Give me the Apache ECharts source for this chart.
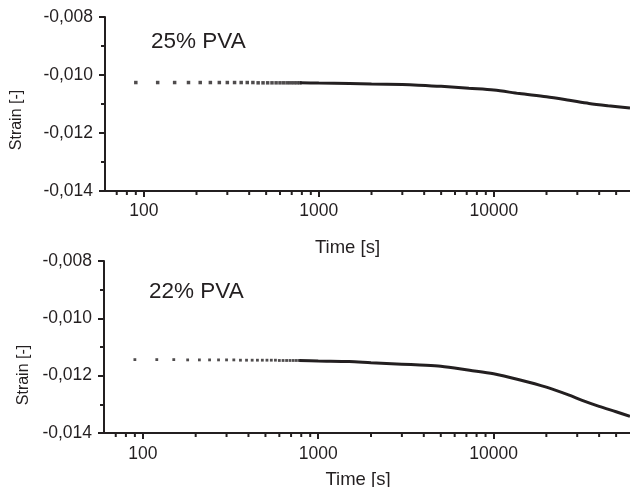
<!DOCTYPE html>
<html><head><meta charset="utf-8">
<script src="https://cdn.jsdelivr.net/npm/echarts@6/dist/echarts.min.js"></script>
<style>html,body{margin:0;padding:0;background:#fff}#c{width:630px;height:487px}</style>
</head><body><div id="c"></div>
<script>
// ---- data ----
const panelLabels = ['25% PVA', '22% PVA'];
const dotTimes = [90,120,150,180,210,240,270,300,330,360,390,420,450,480,510,540,570,600,630,660,690,720,750,780];
const dots25 = [-0.01026,-0.01026,-0.01026,-0.01026,-0.01026,-0.01026,-0.01026,-0.01026,-0.01026,-0.01026,-0.01026,-0.01026,
                -0.01027,-0.01027,-0.01027,-0.01027,-0.01027,-0.01027,-0.01027,-0.01027,-0.01027,-0.01027,-0.01027,-0.01027];
const dots22 = [-0.01144,-0.01144,-0.01144,-0.01145,-0.01145,-0.01145,-0.01145,-0.01145,-0.01145,-0.01146,-0.01146,-0.01146,
                -0.01146,-0.01146,-0.01146,-0.01146,-0.01146,-0.01147,-0.01147,-0.01147,-0.01147,-0.01147,-0.01147,-0.01147];
const lineTimes25 = [780,1000,1500,2000,3000,3700,5000,7200,10000,14000,20000,27000,35000,45000,60000];
const line25 = [-0.01027,-0.01028,-0.01029,-0.01031,-0.01033,-0.01035,-0.01039,-0.01046,-0.01052,-0.01064,-0.01075,-0.01087,-0.01098,-0.01106,-0.01114];
const lineTimes22 = [780,1000,1500,2000,3000,3800,5000,7300,10000,14000,20000,27000,32000,40000,50000,60000];
const line22 = [-0.01147,-0.01149,-0.01151,-0.01155,-0.01160,-0.01163,-0.01167,-0.01181,-0.01193,-0.01214,-0.01240,-0.01268,-0.01286,-0.01307,-0.01326,-0.01342];
const xMajorLabels = [100, 1000, 10000];
const xMinorTicks = [70,80,90,200,300,400,500,600,700,800,900,2000,3000,4000,5000,6000,7000,8000,9000,20000,30000,40000,50000];
const X_MIN = 60, X_MAX = 60000;
const Y_MIN = -0.014, Y_MAX = -0.008, Y_STEP = 0.002;
const xTitle = 'Time [s]';
const yTitle = 'Strain [-]';

// ---- chart ----
const INK = '#231f20';
const FONT = 'Liberation Sans, Arial, sans-serif';
const chart = echarts.init(document.getElementById('c'), null, {renderer: 'canvas'});

function xAxisCfg(idx, margin, gap, pad) {
  return {
    gridIndex: idx, type: 'log', logBase: 10, min: X_MIN, max: X_MAX,
    axisLine: {show: true, onZero: false, lineStyle: {color: INK, width: 2}},
    axisTick: {show: true, length: 6, lineStyle: {color: INK, width: 2}},
    minorTick: {show: false},
    splitLine: {show: false},
    axisLabel: {
      fontSize: 17.5, color: INK, fontFamily: FONT, margin: margin,
      formatter: v => xMajorLabels.includes(Math.round(v)) ? String(Math.round(v)) : '',
      showMinLabel: false, showMaxLabel: false
    },
    name: xTitle, nameLocation: 'middle', nameGap: gap,
    nameTextStyle: {fontSize: 18.5, color: INK, fontFamily: FONT, padding: pad}
  };
}
function yAxisCfg(idx, gap, pad) {
  return {
    gridIndex: idx, type: 'value', min: Y_MIN, max: Y_MAX, interval: Y_STEP,
    axisLine: {show: true, onZero: false, lineStyle: {color: INK, width: 2}},
    axisTick: {show: true, length: 6, lineStyle: {color: INK, width: 2}},
    minorTick: {show: true, splitNumber: 2, length: 4, lineStyle: {color: INK, width: 2}},
    splitLine: {show: false},
    axisLabel: {
      fontSize: 17.5, color: INK, fontFamily: FONT, margin: 12,
      formatter: v => v.toFixed(3).replace('.', ',')
    },
    name: yTitle, nameLocation: 'middle', nameGap: gap, nameRotate: 90,
    nameTextStyle: {fontSize: 16, color: INK, fontFamily: FONT, padding: pad}
  };
}
function dotSeries(idx, vals, size) {
  return {
    type: 'scatter', xAxisIndex: idx, yAxisIndex: idx,
    data: dotTimes.map((t, i) => [t, vals[i]]),
    symbol: 'rect', symbolSize: size, itemStyle: {color: INK}, silent: true
  };
}
function lineSeries(idx, times, vals) {
  return {
    type: 'line', xAxisIndex: idx, yAxisIndex: idx,
    data: times.map((t, i) => [t, vals[i]]),
    showSymbol: false, smooth: 0.3,
    lineStyle: {color: INK, width: 3}, silent: true
  };
}
function minorTickSeries(idx) {
  return {
    type: 'custom', xAxisIndex: idx, yAxisIndex: idx, silent: true, clip: false, z: 5,
    data: xMinorTicks.map(t => [t, Y_MIN]),
    renderItem: (p, api) => {
      const pt = api.coord([api.value(0), api.value(1)]);
      return {type: 'line', shape: {x1: pt[0], y1: pt[1], x2: pt[0], y2: pt[1] + 4},
              style: {stroke: INK, lineWidth: 2}};
    }
  };
}

chart.setOption({
  animation: false,
  backgroundColor: '#fff',
  grid: [
    {left: 105, top: 17, right: 0, height: 174, containLabel: false, outerBoundsMode: 'none'},
    {left: 104, top: 261, right: 0, height: 172, containLabel: false, outerBoundsMode: 'none'}
  ],
  xAxis: [xAxisCfg(0, 11, 47, [0, 40, 0, 0]), xAxisCfg(1, 12, 37, [0, 18, 0, 0])],
  yAxis: [yAxisCfg(0, 80, [0, 32, 0, 0]), yAxisCfg(1, 72, [0, 56, 0, 0])],
  series: [
    dotSeries(0, dots25, 3.5), lineSeries(0, lineTimes25, line25), minorTickSeries(0),
    dotSeries(1, dots22, 2.8), lineSeries(1, lineTimes22, line22), minorTickSeries(1)
  ],
  graphic: [
    {type: 'text', left: 151, top: 30, style: {text: panelLabels[0], fontSize: 22.5, fill: INK, fontFamily: FONT}},
    {type: 'text', left: 149, top: 280, style: {text: panelLabels[1], fontSize: 22.5, fill: INK, fontFamily: FONT}}
  ]
});
</script></body></html>
